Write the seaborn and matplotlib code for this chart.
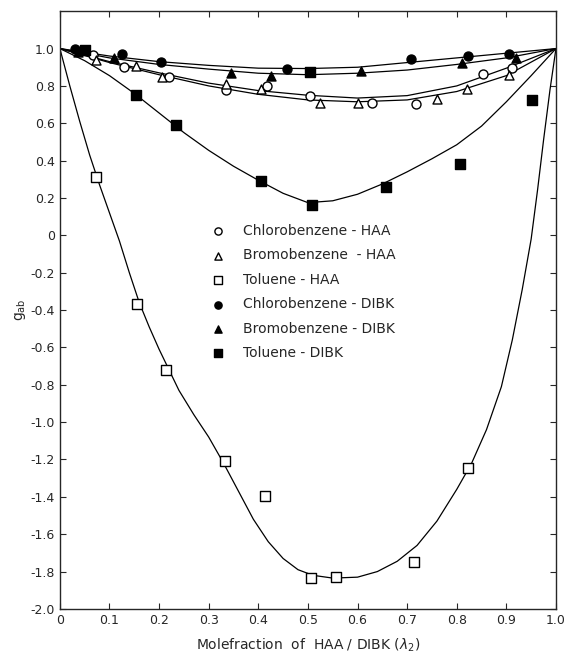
import numpy as np
import pandas as pd
import seaborn as sns
import matplotlib.pyplot as plt

cb_haa_x = [0.066, 0.13, 0.22, 0.335, 0.417, 0.505, 0.63, 0.717, 0.853, 0.912]
cb_haa_y = [0.968, 0.90, 0.85, 0.78, 0.80, 0.745, 0.71, 0.705, 0.866, 0.898]

bb_haa_x = [0.073, 0.153, 0.205, 0.335, 0.405, 0.524, 0.60, 0.76, 0.82, 0.905]
bb_haa_y = [0.94, 0.905, 0.85, 0.81, 0.785, 0.71, 0.71, 0.73, 0.785, 0.86]

tol_haa_x = [0.072, 0.156, 0.213, 0.333, 0.413, 0.506, 0.556, 0.713, 0.823]
tol_haa_y = [0.315, -0.37, -0.72, -1.207, -1.394, -1.833, -1.828, -1.748, -1.244]

cb_dibk_x = [0.03, 0.125, 0.203, 0.458, 0.707, 0.823, 0.906]
cb_dibk_y = [0.995, 0.97, 0.93, 0.89, 0.945, 0.96, 0.97]

bb_dibk_x = [0.036, 0.11, 0.345, 0.426, 0.607, 0.81, 0.92]
bb_dibk_y = [0.98, 0.95, 0.87, 0.855, 0.88, 0.925, 0.95]

tol_dibk_x = [0.05, 0.153, 0.235, 0.405, 0.505, 0.508, 0.657, 0.807, 0.952]
tol_dibk_y = [0.99, 0.75, 0.59, 0.29, 0.875, 0.165, 0.26, 0.38, 0.727]

# fitted curves
fit_x = [0.0, 0.1, 0.2, 0.3, 0.4, 0.5, 0.6, 0.7, 0.8, 0.9, 1.0]
cb_haa_fit = [1.0, 0.93, 0.87, 0.815, 0.775, 0.75, 0.735, 0.748, 0.80, 0.895, 1.0]
bb_haa_fit = [1.0, 0.925, 0.86, 0.80, 0.755, 0.725, 0.715, 0.725, 0.77, 0.855, 1.0]
cb_dibk_fit = [1.0, 0.96, 0.93, 0.91, 0.895, 0.893, 0.90, 0.925, 0.95, 0.975, 1.0]
bb_dibk_fit = [1.0, 0.95, 0.915, 0.89, 0.868, 0.86, 0.868, 0.885, 0.915, 0.95, 1.0]

tol_dibk_fit_x = [0.0, 0.05, 0.1, 0.15, 0.2, 0.25, 0.3, 0.35, 0.4, 0.45, 0.5,
                  0.55, 0.6, 0.65, 0.7, 0.75, 0.8, 0.85, 0.9, 0.95, 1.0]
tol_dibk_fit_y = [1.0, 0.935, 0.855, 0.76, 0.655, 0.55, 0.455, 0.37, 0.295, 0.225, 0.175,
                  0.185, 0.22, 0.275, 0.34, 0.41, 0.485, 0.585, 0.715, 0.855, 1.0]

tol_haa_fit_x = [0.0, 0.02, 0.04, 0.06, 0.08, 0.10, 0.12, 0.14, 0.16, 0.18, 0.20,
                 0.22, 0.24, 0.27, 0.30, 0.33, 0.36, 0.39, 0.42, 0.45, 0.48,
                 0.51, 0.55, 0.60, 0.64, 0.68, 0.72, 0.76, 0.80, 0.83, 0.86,
                 0.89, 0.912, 0.932, 0.95, 0.963, 0.975, 0.988, 1.0]
tol_haa_fit_y = [1.0, 0.80, 0.61, 0.43, 0.27, 0.12, -0.03, -0.20, -0.36, -0.49, -0.61,
                 -0.72, -0.83, -0.96, -1.08, -1.22, -1.37, -1.52, -1.64, -1.73, -1.79,
                 -1.82, -1.835, -1.83, -1.80, -1.745, -1.66, -1.53, -1.36, -1.22, -1.04,
                 -0.81, -0.56, -0.29, -0.02, 0.245, 0.51, 0.78, 1.0]

x_ticks = [0, 0.1, 0.2, 0.3, 0.4, 0.5, 0.6, 0.7, 0.8, 0.9, 1.0]
x_labels = ["0", "0.1", "0.2", "0.3", "0.4", "0.5", "0.6", "0.7", "0.8", "0.9", "1.0"]
y_ticks = [1.0, 0.8, 0.6, 0.4, 0.2, 0, -0.2, -0.4, -0.6, -0.8, -1.0,
           -1.2, -1.4, -1.6, -1.8, -2.0]
y_labels = ["1.0", "0.8", "0.6", "0.4", "0.2", "0", "-0.2", "-0.4", "-0.6", "-0.8", "-1.0",
            "-1.2", "-1.4", "-1.6", "-1.8", "-2.0"]

sns.set_style("ticks")
plt.rcParams["font.family"] = ["DejaVu Sans"]

fig = plt.figure(figsize=(5.65, 6.59), dpi=100)
ax = fig.add_axes([0.106, 0.076, 0.878, 0.907])

# curves
for y in [cb_haa_fit, bb_haa_fit, cb_dibk_fit, bb_dibk_fit]:
    sns.lineplot(x=fit_x, y=y, color="black", linewidth=0.9, sort=False, ax=ax)
sns.lineplot(x=tol_dibk_fit_x, y=tol_dibk_fit_y, color="black", linewidth=0.9, sort=False, ax=ax)
sns.lineplot(x=tol_haa_fit_x, y=tol_haa_fit_y, color="black", linewidth=0.9, sort=False, ax=ax)

# points
series = [
    (cb_haa_x, cb_haa_y, "o", "white", "Chlorobenzene - HAA"),
    (bb_haa_x, bb_haa_y, "^", "white", "Bromobenzene  - HAA"),
    (tol_haa_x, tol_haa_y, "s", "white", "Toluene - HAA"),
    (cb_dibk_x, cb_dibk_y, "o", "black", "Chlorobenzene - DIBK"),
    (bb_dibk_x, bb_dibk_y, "^", "black", "Bromobenzene - DIBK"),
    (tol_dibk_x, tol_dibk_y, "s", "black", "Toluene - DIBK"),
]
for xs, ys, m, fc, lab in series:
    sns.scatterplot(x=xs, y=ys, marker=m, s=42, color=fc, edgecolor="black",
                    linewidth=1.0, label=lab, zorder=3, ax=ax)

ax.set_xlim(0, 1.0)
ax.set_ylim(-2.0, 1.2)
ax.set_xticks(x_ticks)
ax.set_xticklabels(x_labels, fontsize=9)
ax.set_yticks(y_ticks)
ax.set_yticklabels(y_labels, fontsize=9)
ax.tick_params(direction="in", top=True, right=True, length=4, width=0.8)
for sp in ax.spines.values():
    sp.set_linewidth(1.0)

ax.set_xlabel(r"Molefraction  of  HAA / DIBK ($\lambda_2$)", fontsize=10, labelpad=7)
ax.set_ylabel(r"$\mathregular{g_{ab}}$", fontsize=10, labelpad=2)

ax.legend(frameon=False, loc="upper left", bbox_to_anchor=(0.265, 0.665),
          labelspacing=0.75, handletextpad=0.8, fontsize=10, markerscale=0.8)

fig.savefig("out.png", dpi=100)
